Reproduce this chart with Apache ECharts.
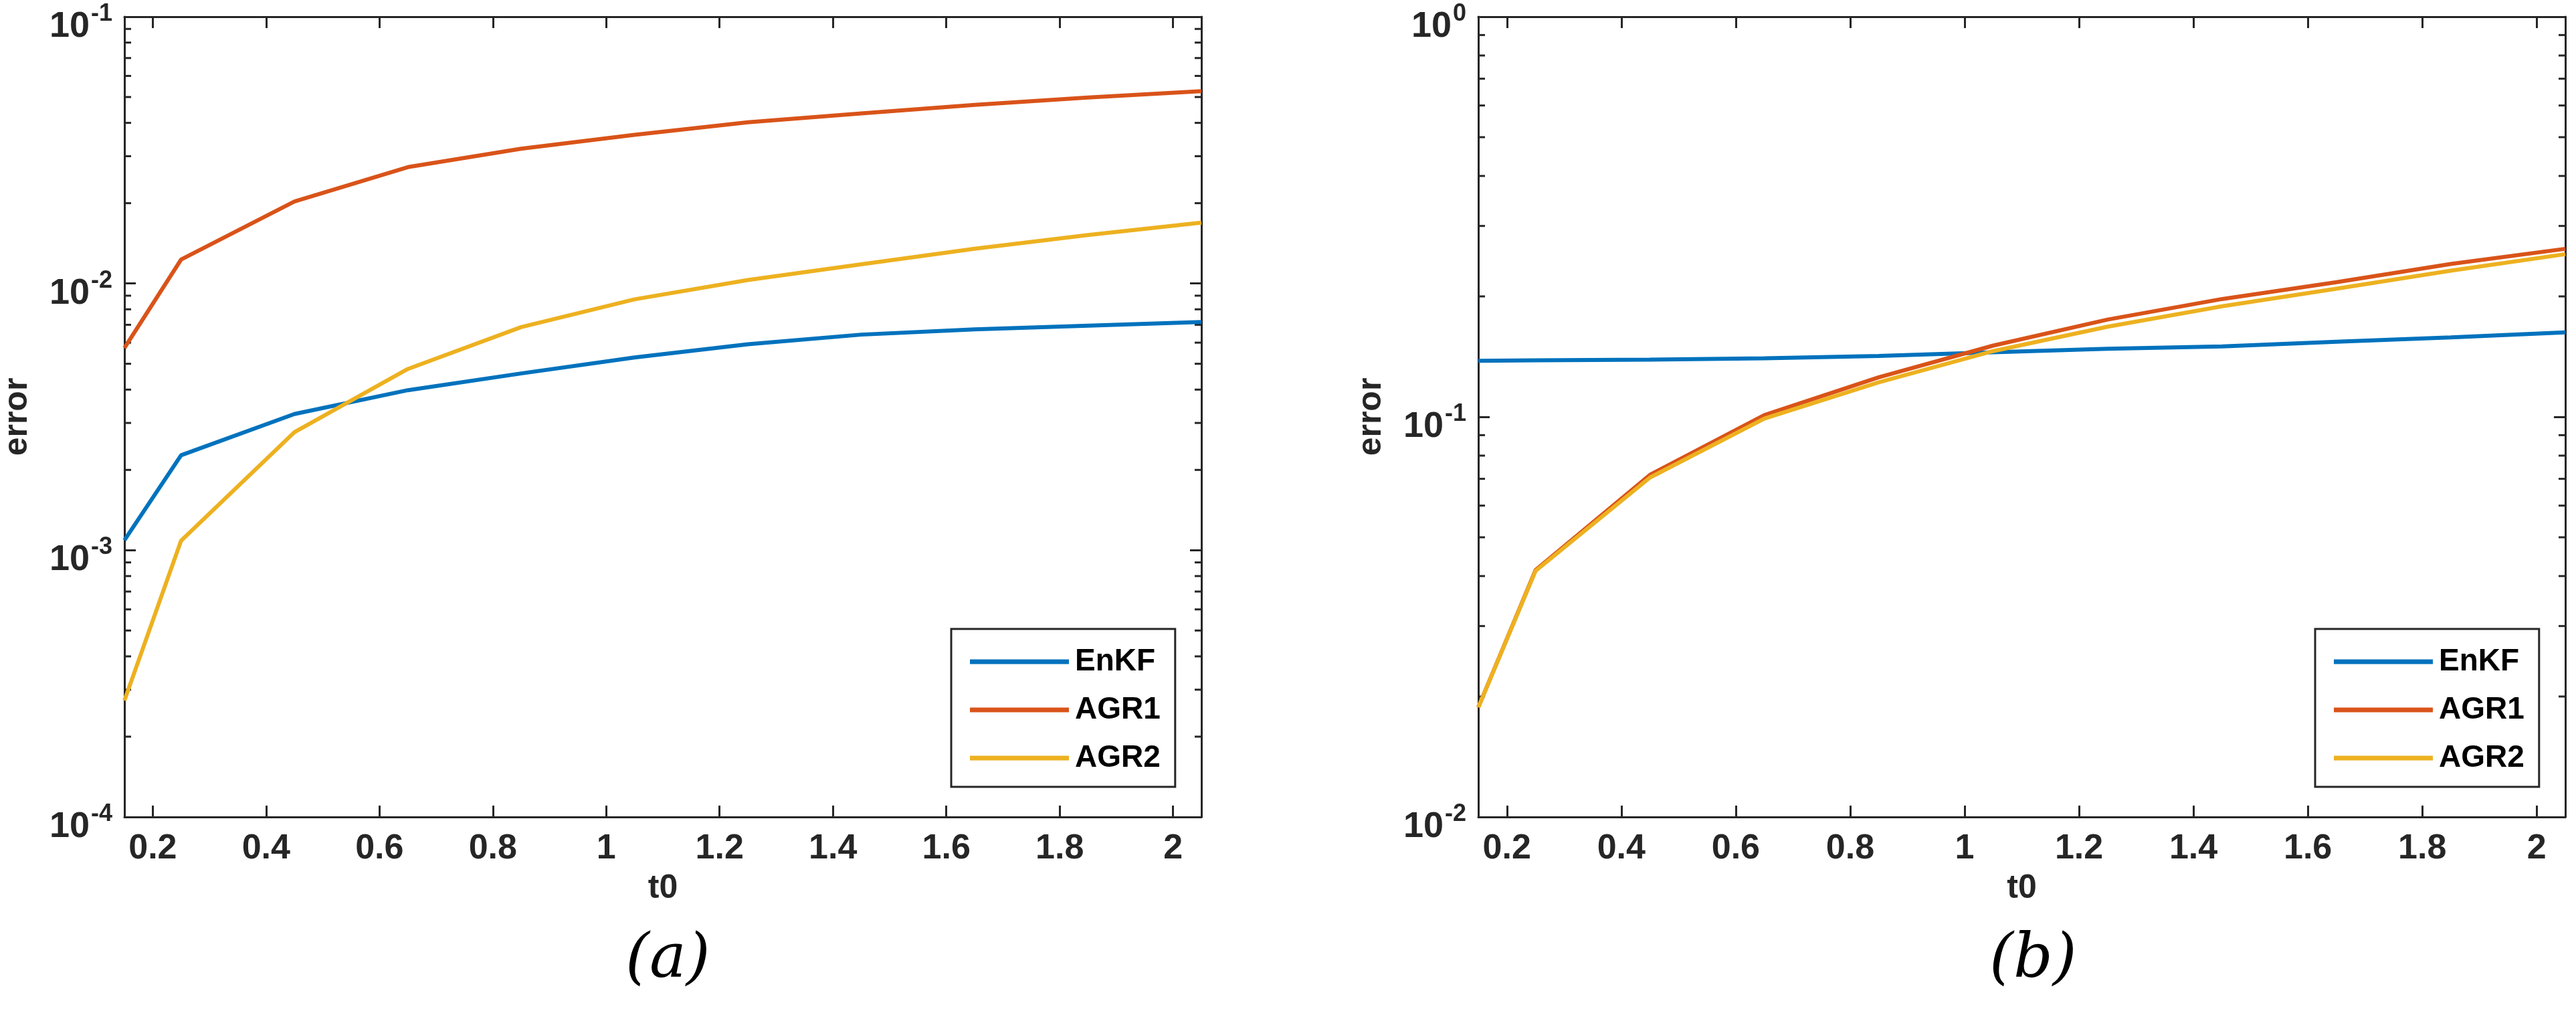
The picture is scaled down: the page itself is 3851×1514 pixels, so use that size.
<!DOCTYPE html>
<html>
<head>
<meta charset="utf-8">
<script src="https://cdn.jsdelivr.net/npm/echarts@6/dist/echarts.min.js"></script>
<style>html,body{margin:0;padding:0;background:#fff}#chart{width:3851px;height:1514px}</style>
</head>
<body>
<div id="chart"></div>
<script>
const t0 = [0.15, 0.25, 0.45, 0.65, 0.85, 1.05, 1.25, 1.45, 1.65, 1.85, 2.05];
// panel (a)
const enkfA = [0.00109, 0.00227, 0.00324, 0.00398, 0.0046, 0.00528, 0.00592, 0.00643, 0.00673, 0.00695, 0.00717];
const agr1A = [0.00573, 0.0123, 0.0203, 0.0273, 0.032, 0.0361, 0.0402, 0.0434, 0.0467, 0.0498, 0.0526];
const agr2A = [0.000273, 0.001086, 0.00277, 0.00478, 0.00686, 0.00872, 0.0103, 0.0118, 0.0135, 0.0152, 0.0169];
// panel (b)
const enkfB = [0.138, 0.1385, 0.139, 0.140, 0.142, 0.145, 0.148, 0.150, 0.154, 0.158, 0.1626];
const agr1B = [0.0188, 0.0414, 0.0716, 0.101, 0.1256, 0.1507, 0.175, 0.197, 0.217, 0.241, 0.263];
const agr2B = [0.0188, 0.0412, 0.0705, 0.099, 0.122, 0.146, 0.168, 0.189, 0.209, 0.232, 0.255];
const xTicks = [0.2, 0.4, 0.6, 0.8, 1, 1.2, 1.4, 1.6, 1.8, 2];
const names = ['EnKF', 'AGR1', 'AGR2'];
const colors = ['#0072BD', '#D95319', '#EDB120'];

const FONT = 'Liberation Sans';
const XMIN = 0.15, XMAX = 2.05;

function minorVals(lo, hi) {
  const out = [];
  for (let e = lo; e < hi; e++) for (let m = 2; m <= 9; m++) out.push([XMIN, m * Math.pow(10, e)]);
  return out;
}

function yLabel(v) {
  const e = Math.round(Math.log10(v));
  return '{b|10}{s|' + e + '}';
}

const grids = [
  { left: 171, top: 25, width: 1625, height: 1196 },
  { left: 2210, top: 25, width: 1625, height: 1196 }
];
const yRanges = [[1e-4, 1e-1], [1e-2, 1]];

const xAxis = [], yAxis = [], series = [];
grids.forEach((g, i) => {
  xAxis.push({
    type: 'value', gridIndex: i, min: XMIN, max: XMAX,
    name: 't0', nameLocation: 'middle', nameGap: 82,
    nameTextStyle: { fontFamily: FONT, fontWeight: 'bold', fontSize: 50, color: '#262626' },
    axisLine: { onZero: false, lineStyle: { color: '#262626', width: 3 } },
    axisTick: { inside: true, length: 17, lineStyle: { width: 3, color: '#262626' }, customValues: xTicks },
    axisLabel: { customValues: xTicks, fontFamily: FONT, fontWeight: 'bold', fontSize: 52, color: '#262626', margin: 22, formatter: v => String(+v.toFixed(1)) },
    splitLine: { show: false }
  });
  xAxis.push({
    type: 'value', gridIndex: i, min: XMIN, max: XMAX, position: 'top',
    axisLine: { onZero: false, lineStyle: { color: '#262626', width: 3 } },
    axisTick: { inside: true, length: 17, lineStyle: { width: 3, color: '#262626' }, customValues: xTicks },
    axisLabel: { show: false }, splitLine: { show: false }
  });
  yAxis.push({
    type: 'log', logBase: 10, gridIndex: i, min: yRanges[i][0], max: yRanges[i][1],
    name: 'error', nameLocation: 'middle', nameGap: 135,
    nameTextStyle: { fontFamily: FONT, fontWeight: 'bold', fontSize: 50, color: '#262626' },
    axisLine: { onZero: false, lineStyle: { color: '#262626', width: 3 } },
    axisTick: { inside: true, length: 17, lineStyle: { width: 3, color: '#262626' } },
    axisLabel: {
      formatter: yLabel, margin: 18,
      rich: {
        b: { fontFamily: FONT, fontWeight: 'bold', fontSize: 54, color: '#262626', padding: [30, 0, 0, 0] },
        s: { fontFamily: FONT, fontWeight: 'bold', fontSize: 36, color: '#262626', padding: [0, 0, 8, 2] }
      }
    },
    splitLine: { show: false }
  });
  yAxis.push({
    type: 'log', logBase: 10, gridIndex: i, min: yRanges[i][0], max: yRanges[i][1], position: 'right',
    axisLine: { onZero: false, lineStyle: { color: '#262626', width: 3 } },
    axisTick: { inside: true, length: 17, lineStyle: { width: 3, color: '#262626' } },
    axisLabel: { show: false }, splitLine: { show: false }
  });
});

const panels = [[enkfA, agr1A, agr2A], [enkfB, agr1B, agr2B]];
panels.forEach((p, i) => {
  p.forEach((vals, k) => {
    series.push({
      name: names[k], type: 'line', xAxisIndex: 2 * i, yAxisIndex: 2 * i,
      data: t0.map((x, j) => [x, vals[j]]), showSymbol: false, symbol: 'none',
      lineStyle: { color: colors[k], width: 6 }, itemStyle: { color: colors[k] }, z: 3
    });
  });
  const lo = Math.round(Math.log10(yRanges[i][0])), hi = Math.round(Math.log10(yRanges[i][1]));
  series.push({
    type: 'custom', xAxisIndex: 2 * i, yAxisIndex: 2 * i, silent: true, clip: false,
    data: minorVals(lo, hi),
    renderItem: (params, api) => {
      const a = api.coord([XMIN, api.value(1)]);
      const b = api.coord([XMAX, api.value(1)]);
      const st = { stroke: '#262626', lineWidth: 3 };
      return { type: 'group', children: [
        { type: 'line', shape: { x1: a[0], y1: a[1], x2: a[0] + 10, y2: a[1] }, style: st },
        { type: 'line', shape: { x1: b[0], y1: b[1], x2: b[0] - 10, y2: b[1] }, style: st }
      ] };
    }
  });
});

const legendBase = {
  orient: 'vertical', data: names, icon: 'rect',
  itemWidth: 148, itemHeight: 7, itemGap: 26,
  borderColor: '#262626', borderWidth: 3, backgroundColor: '#fff',
  padding: [26, 22, 20, 28],
  textStyle: { fontFamily: FONT, fontWeight: 'bold', fontSize: 46, color: '#000', padding: [0, 0, 0, 4] }
};

const chart = echarts.init(document.getElementById('chart'));
chart.setOption({
  backgroundColor: '#fff',
  animation: false,
  grid: grids,
  xAxis, yAxis, series,
  legend: [
    Object.assign({}, legendBase, { left: 1422, top: 940 }),
    Object.assign({}, legendBase, { left: 3461, top: 940 })
  ],
  graphic: [
    { type: 'text', left: 171 + 812 - 48, top: 1390, style: { text: '(a)', fontFamily: 'DejaVu Serif', fontStyle: 'italic', fontSize: 92, fill: '#000' } },
    { type: 'text', left: 2210 + 812 - 48, top: 1390, style: { text: '(b)', fontFamily: 'DejaVu Serif', fontStyle: 'italic', fontSize: 92, fill: '#000' } }
  ]
});
</script>
</body>
</html>
